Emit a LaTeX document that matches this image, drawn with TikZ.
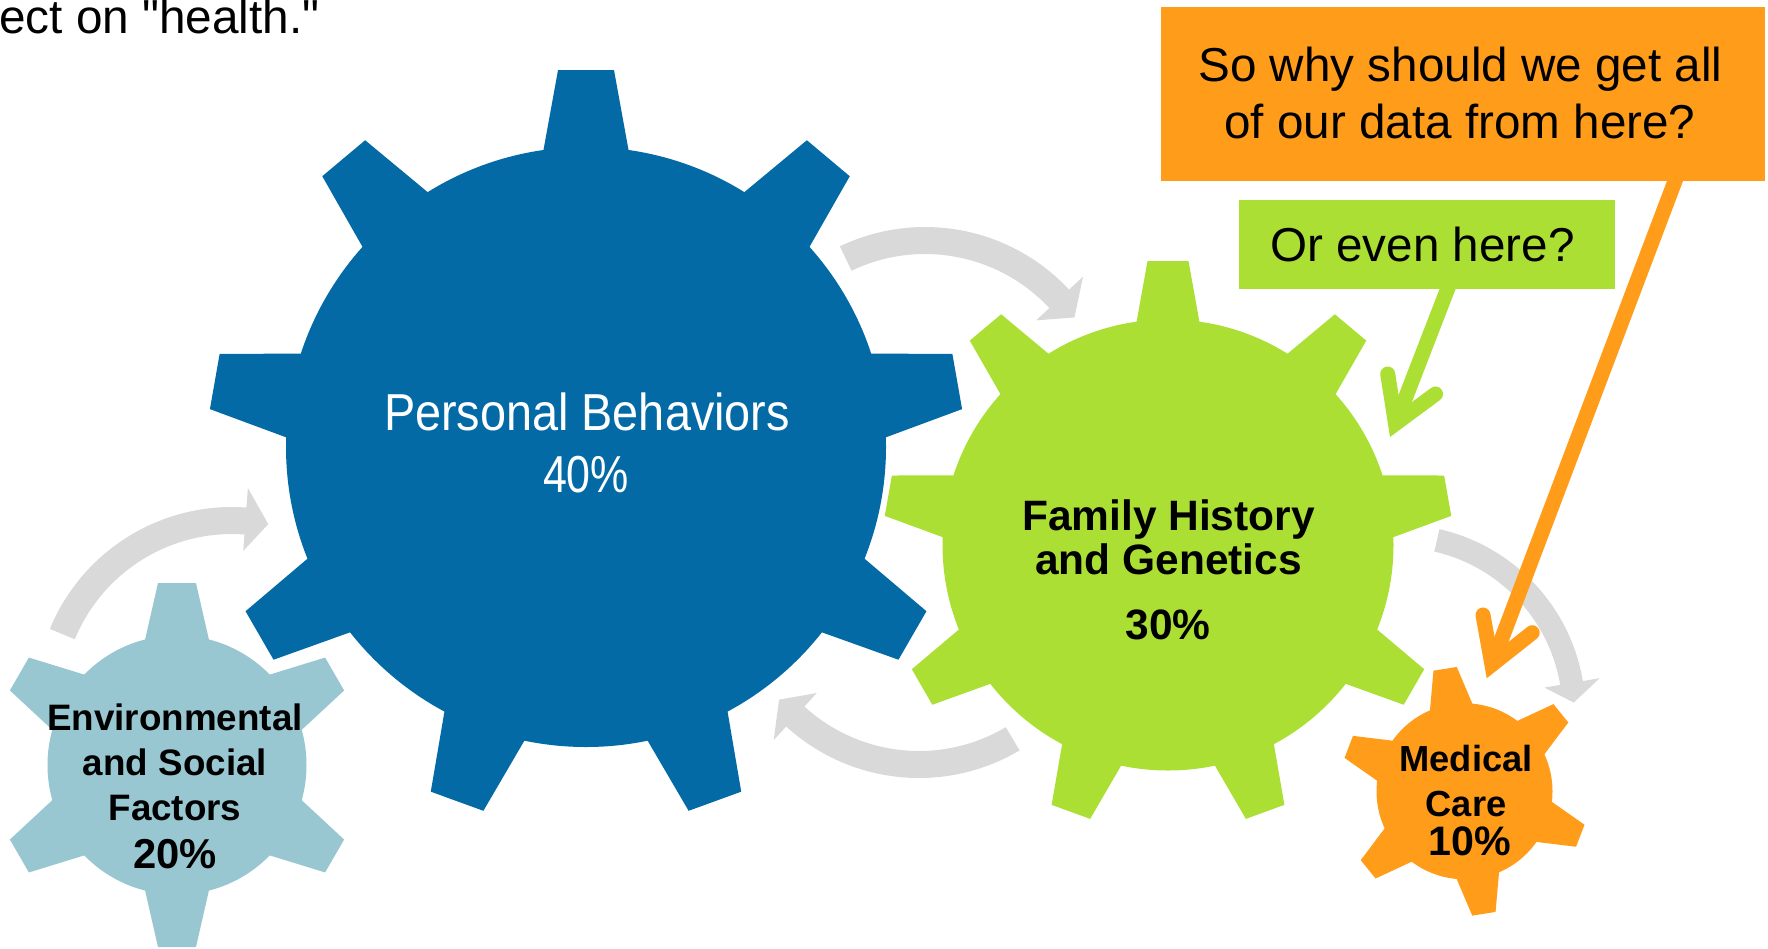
\documentclass[tikz,border=0pt]{standalone}
\usepackage{fontspec}
\setmainfont{Liberation Sans}
\newfontfamily\plainquotes{Liberation Sans}
\usepackage{graphicx}
\definecolor{gblue}{RGB}{3,106,166}
\definecolor{ggreen}{RGB}{172,223,52}
\definecolor{gorange}{RGB}{255,157,26}
\definecolor{glight}{RGB}{152,199,210}
\definecolor{ggray}{RGB}{217,217,217}
% gear: cx, cy, body radius, tip radius, tip half width, base half width, teeth, first angle, colour
\newcommand{\gearfill}[9]{%
 \begin{scope}[shift={(#1,#2)}]
  \fill[#9] (0,0) circle[radius=#3];
  \pgfmathsetmacro{\gRin}{0.7*#3}
  \pgfmathsetmacro{\gWin}{#6+(#6-#5)*(#3-\gRin)/(#4-#3)}
  \pgfmathsetmacro{\gDo}{atan(#5/#4)}
  \pgfmathsetmacro{\gRo}{#4/cos(\gDo)}
  \pgfmathsetmacro{\gDi}{atan(\gWin/\gRin)}
  \pgfmathsetmacro{\gRi}{\gRin/cos(\gDi)}
  \foreach \k in {1,...,#7}{%
   \pgfmathsetmacro{\ga}{-(#8+360/#7*\k)}
   \fill[#9] ({\ga-\gDo}:\gRo) -- ({\ga+\gDo}:\gRo) -- ({\ga+\gDi}:\gRi) -- ({\ga-\gDi}:\gRi) -- cycle;
  }
 \end{scope}}
% circular arrow: cx, cy, inner r, outer r, inner barb r, outer barb r, tail angle, head angle, tip angle
\newcommand{\cyclearrow}[9]{%
 \begin{scope}[shift={(#1,#2)}]
  \pgfmathsetmacro{\cR}{(#3+#4)/2}
  \fill[ggray] (#7:#4) arc[start angle=#7, end angle=#8, radius=#4] -- (#8:#6) -- (#9:\cR) -- (#8:#5) -- (#8:#3) arc[start angle=#8, end angle=#7, radius=#3] -- cycle;
 \end{scope}}
\begin{document}
\begin{tikzpicture}[x=1pt,y=-1pt,
  txt/.style={inner sep=0pt, anchor=base, text=black},
  gearbig/.style={txt, font=\fontsize{42.5}{50}\selectfont\bfseries},
  gearsmall/.style={txt, font=\fontsize{36.8}{44}\selectfont\bfseries},
  gearpct/.style={txt, font=\fontsize{41.8}{50}\selectfont\bfseries},
  pbtxt/.style={txt, text=white, font=\fontsize{52}{60}\selectfont},
  calltxt/.style={txt, font=\fontsize{47.6}{56}\selectfont},
  shaft/.style={line width=15pt, line cap=butt},
  arrowarms/.style={line width=15pt, line cap=round, line join=miter, miter limit=10},
  callbox/.style={inner sep=0pt, anchor=north west, draw=none}]
\useasboundingbox (0,0) rectangle (1768,948);
\fill[white] (0,0) rectangle (1768,948);

% grey cycle arrows
\cyclearrow{925}{424}{170}{197}{152}{216}{-115.6}{-43}{-35.5}
\cyclearrow{919}{581}{170}{197}{151.7}{215.5}{59.3}{132.4}{139.7}
\cyclearrow{232}{704}{170}{197}{153.5}{216.6}{-157.6}{-85.8}{-78.6}
\cyclearrow{1397.5}{712.4}{165}{188}{149}{205}{-77.1}{-9.6}{-3.2}

% gears
\gearfill{586}{447}{300}{377}{28}{42}{9}{90}{gblue}
\gearfill{1168}{545}{225.5}{284}{20.5}{31}{9}{90}{ggreen}
\gearfill{177}{765}{129.5}{182}{19}{31}{6}{90}{glight}
\gearfill{1464.5}{791.3}{88}{124}{11.8}{20.8}{6}{99}{gorange}

% gear labels
\node[pbtxt] (pb1) at (587,430.6) {\resizebox{406pt}{\height}{Personal Behaviors}};
\node[pbtxt] (pb2) at (586,492.8) {\resizebox{86pt}{\height}{40\%}};

\node[gearbig] (fh1) at (1168.5,530) {Family History};
\node[gearbig] (fh2) at (1168.5,574) {and Genetics};
\node[gearbig] (fh3) at (1168,639) {30\%};

\node[gearsmall] (es1) at (175,730.7) {Environmental};
\node[gearsmall] (es2) at (175,775) {and Social};
\node[gearsmall] (es3) at (175,820) {Factors};
\node[gearpct] (es4) at (175,868.3) {20\%};

\node[txt, font=\fontsize{36.3}{44}\selectfont\bfseries] (mc1) at (1466,771.7) {Medical};
\node[txt, font=\fontsize{36.3}{44}\selectfont\bfseries] (mc2) at (1466,816.7) {Care};
\node[txt, font=\fontsize{41.2}{50}\selectfont\bfseries] (mc3) at (1469.5,855) {10\%};

% callout boxes
\node[callbox, fill=gorange, minimum width=604pt, minimum height=174pt] (qbox) at (1161,7) {};
\node[callbox, fill=ggreen, minimum width=376pt, minimum height=88.5pt] (gbox) at (1239,200) {};

\node[calltxt] (q1) at (1460.5,81.7) {So why should we get all};
\node[calltxt] (q2) at (1460,138.4) {of our data from here?};
\node[calltxt] (g1) at (1422.5,261.5) {Or even here?};

% pointers
\coordinate (gstart) at (1449.5,284);
\coordinate (gvert) at (1395.5,423.6);
\coordinate (garmL) at (1387.7,374);
\coordinate (garmR) at (1435.5,394);
\draw[shaft, draw=ggreen] (gstart) -- (gvert);
\draw[arrowarms, draw=ggreen] (garmL) -- (gvert) -- (garmR);

\coordinate (qstart) at (1676.5,177);
\coordinate (qvert) at (1491.9,664.6);
\coordinate (qarmL) at (1483,615);
\coordinate (qarmR) at (1532.2,632.7);
\draw[shaft, draw=gorange] (qstart) -- (qvert);
\draw[arrowarms, draw=gorange] (qarmL) -- (qvert) -- (qarmR);

% heading, cut off at the top and left as in the reference
\node[txt, anchor=base west, font=\plainquotes\fontsize{47.7}{56}\selectfont] (title) at (-1,33) {ect on "health."};
\end{tikzpicture}
\end{document}
